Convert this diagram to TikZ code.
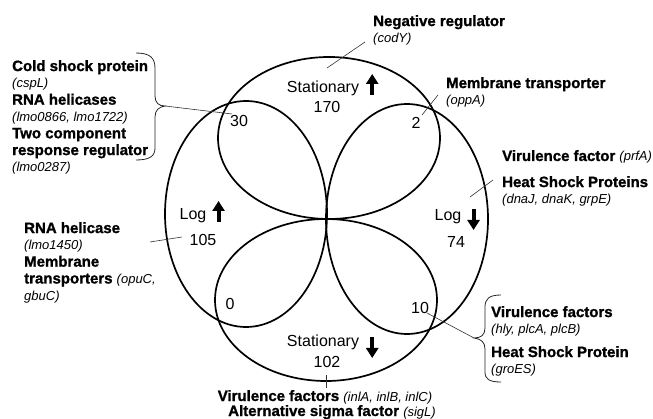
\documentclass[tikz,border=0pt]{standalone}
\usepackage{fontspec}
\setmainfont{Liberation Sans}[BoldFeatures={FakeBold=1.2}]
\usetikzlibrary{arrows.meta,calc}
\newcommand\gn[1]{{\fontsize{13}{16.8}\selectfont\mdseries\itshape #1}}
\begin{document}
\begin{tikzpicture}[x=1pt,y=-1pt,
  venn/.style={line width=1.7pt},
  conn/.style={line width=0.6pt, draw=black!80},
  brc/.style={line width=0.8pt, draw=black!85},
  cnt/.style={font=\fontsize{16}{19}\selectfont, inner sep=0pt, anchor=base},
  lbl/.style={font=\fontsize{15}{16.8}\selectfont\bfseries, inner sep=0pt, align=left, anchor=north west},
  uparrow/.style={line width=4pt, -{Triangle[width=12pt,length=10pt]}},
  dnarrow/.style={line width=4pt, -{Triangle[width=12pt,length=10pt]}}]
\useasboundingbox (0,0) rectangle (653,419);
% ellipses
\draw[venn] (329,138) ellipse [x radius=111, y radius=81];
\draw[venn] (326,300) ellipse [x radius=111, y radius=81];
\draw[venn] (246,214) ellipse [x radius=81, y radius=113];
\draw[venn] (407,219) ellipse [x radius=81, y radius=115];
% counts
\node[cnt] (st1) at (323,93) {Stationary};
\node[cnt] (n170) at (327,113) {170};
\draw[uparrow] ($(st1.base east)+(13,2)$) -- ++(0,-21);
\node[cnt] (st2) at (323,347) {Stationary};
\node[cnt] (n102) at (327,367) {102};
\draw[dnarrow] ($(st2.base east)+(13,-10)$) -- ++(0,21);
\node[cnt] (lg1) at (193,220) {Log};
\node[cnt] (n105) at (203,246) {105};
\draw[uparrow] ($(lg1.base east)+(12,2)$) -- ++(0,-21);
\node[cnt] (lg2) at (448,221) {Log};
\node[cnt] (n74) at (456,248) {74};
\draw[dnarrow] ($(lg2.base east)+(12,-12)$) -- ++(0,21);
\node[cnt] (n30) at (239,127) {30};
\node[cnt] (n2) at (416,129) {2};
\node[cnt] (n10) at (420,314) {10};
\node[cnt] (n0) at (230,310) {0};
% labels
\node[lbl] (codY) at (373,15) {Negative regulator\\\gn{(codY)}};
\node[lbl] (oppA) at (446,77) {Membrane transporter\\\gn{(oppA)}};
\node[lbl, anchor=base west] (prfA) at (502,161) {Virulence factor \gn{(prfA)}};
\node[lbl] (hsp1) at (502,176) {Heat Shock Proteins\\\gn{(dnaJ, dnaK, grpE)}};
\node[lbl] (vf2) at (491,306) {Virulence factors\\\gn{(hly, plcA, plcB)}};
\node[lbl] (hsp2) at (491,346) {Heat Shock Protein\\\gn{(groES)}};
\node[lbl] (left1) at (12,60) {Cold shock protein\\\gn{(cspL)}\\RNA helicases\\\gn{(lmo0866, lmo1722)}\\Two component\\response regulator\\\gn{(lmo0287)}};
\node[lbl] (left2) at (24,222) {RNA helicase\\\gn{(lmo1450)}\\Membrane\\transporters \gn{(opuC,}\\\gn{gbuC)}};
\node[lbl, anchor=base] (bot1) at (325,401) {Virulence factors \gn{(inlA, inlB, inlC)}};
\node[lbl, anchor=base] (bot2) at (332,416) {Alternative sigma factor \gn{(sigL)}};
% braces
\draw[brc] (136,53) .. controls (150,53) and (155,58) .. (155,68) -- (155,96)
  .. controls (155,103) and (159,106) .. (165,106)
  .. controls (159,107) and (155,110) .. (155,117) -- (155,148)
  .. controls (155,156) and (150,160) .. (136,160);
\coordinate (ltip) at (165,106);
\draw[brc] (501,295) .. controls (489,295) and (485,299) .. (485,307) -- (485,328)
  .. controls (485,335) and (481,338) .. (474,338)
  .. controls (481,339) and (485,342) .. (485,349) -- (485,372)
  .. controls (485,379) and (489,382) .. (501,382);
\coordinate (rtip) at (474,338);
% connectors
\coordinate (a1) at (327,68); \coordinate (a2) at (365,42);
\draw[conn] (a1) -- (a2);
\coordinate (b1) at (422,115); \coordinate (b2) at (438,95);
\draw[conn] (b1) -- (b2);
\coordinate (c1) at (470,197); \coordinate (c2) at (493,180);
\draw[conn] (c1) -- (c2);
\coordinate (d1) at (427,313);
\draw[conn] (d1) -- (rtip);
\coordinate (e1) at (232,114);
\draw[conn] (ltip) -- (e1);
\coordinate (f1) at (182,237); \coordinate (f2) at (150,242);
\draw[conn] (f1) -- (f2);
\coordinate (g1) at (326,375); \coordinate (g2) at (326,388);
\draw[conn] (g1) -- (g2);
\end{tikzpicture}
\end{document}
